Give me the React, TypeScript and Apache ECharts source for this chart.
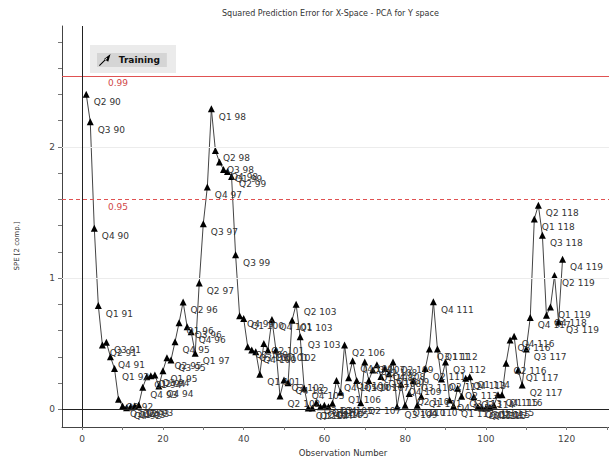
import React, { useEffect, useRef } from "react";
import * as echarts from "echarts";

// SPE per observation (observation numbers 1..119)
const observations: number[] = [
  1, 2, 3, 4, 5, 6, 7, 8, 9, 10, 11, 12, 13, 14, 15, 16, 17, 18, 19, 20,
  21, 22, 23, 24, 25, 26, 27, 28, 29, 30, 31, 32, 33, 34, 35, 36, 37, 38, 39, 40,
  41, 42, 43, 44, 45, 46, 47, 48, 49, 50, 51, 52, 53, 54, 55, 56, 57, 58, 59, 60,
  61, 62, 63, 64, 65, 66, 67, 68, 69, 70, 71, 72, 73, 74, 75, 76, 77, 78, 79, 80,
  81, 82, 83, 84, 85, 86, 87, 88, 89, 90, 91, 92, 93, 94, 95, 96, 97, 98, 99, 100,
  101, 102, 103, 104, 105, 106, 107, 108, 109, 110, 111, 112, 113, 114, 115, 116, 117, 118, 119,
];

const speValues: number[] = [
  2.40, 2.19, 1.38, 0.79, 0.49, 0.51, 0.40, 0.31, 0.076, 0.025,
  0.012, 0.02, 0.025, 0.033, 0.167, 0.248, 0.256, 0.261, 0.177, 0.294,
  0.393, 0.375, 0.514, 0.659, 0.818, 0.628, 0.59, 0.426, 0.963, 1.414,
  1.693, 2.289, 1.972, 1.883, 1.827, 1.812, 1.774, 1.178, 0.712, 0.692,
  0.476, 0.451, 0.438, 0.266, 0.502, 0.451, 0.684, 0.451, 0.101, 0.223,
  0.202, 0.679, 0.80, 0.552, 0.16, 0.01, 0.01, 0.05, 0.02, 0.03,
  0.02, 0.045, 0.22, 0.13, 0.49, 0.24, 0.37, 0.22, 0.05, 0.36,
  0.22, 0.30, 0.34, 0.25, 0.31, 0.27, 0.36, 0.02, 0.19, 0.03,
  0.12, 0.22, 0.03, 0.10, 0.31, 0.46, 0.82, 0.46, 0.23, 0.36,
  0.07, 0.025, 0.16, 0.10, 0.236, 0.248, 0.096, 0.02, 0.01, 0.01,
  0.015, 0.03, 0.11, 0.11, 0.35, 0.527, 0.557, 0.30, 0.185, 0.46,
  0.70, 1.45, 1.555, 1.325, 0.717, 0.78, 1.02, 0.666, 1.143,
];

const quarterLabels: string[] = [
  "Q2 90", "Q3 90", "Q4 90",
  "Q1 91", "Q2 91", "Q3 91", "Q4 91",
  "Q1 92", "Q2 92", "Q3 92", "Q4 92",
  "Q1 93", "Q2 93", "Q3 93", "Q4 93",
  "Q1 94", "Q2 94", "Q3 94", "Q4 94",
  "Q1 95", "Q2 95", "Q3 95", "Q4 95",
  "Q1 96", "Q2 96", "Q3 96", "Q4 96",
  "Q1 97", "Q2 97", "Q3 97", "Q4 97",
  "Q1 98", "Q2 98", "Q3 98", "Q4 98",
  "Q1 99", "Q2 99", "Q3 99", "Q4 99",
  "Q1 100", "Q2 100", "Q3 100", "Q4 100",
  "Q1 101", "Q2 101", "Q3 101", "Q4 101",
  "Q1 102", "Q2 102", "Q3 102", "Q4 102",
  "Q1 103", "Q2 103", "Q3 103", "Q4 103",
  "Q1 104", "Q2 104", "Q3 104", "Q4 104",
  "Q1 105", "Q2 105", "Q3 105", "Q4 105",
  "Q1 106", "Q2 106", "Q3 106", "Q4 106",
  "Q1 107", "Q2 107", "Q3 107", "Q4 107",
  "Q1 108", "Q2 108", "Q3 108", "Q4 108",
  "Q1 109", "Q2 109", "Q3 109", "Q4 109",
  "Q1 110", "Q2 110", "Q3 110", "Q4 110",
  "Q1 111", "Q2 111", "Q3 111", "Q4 111",
  "Q1 112", "Q2 112", "Q3 112", "Q4 112",
  "Q1 113", "Q2 113", "Q3 113", "Q4 113",
  "Q1 114", "Q2 114", "Q3 114", "Q4 114",
  "Q1 115", "Q2 115", "Q3 115", "Q4 115",
  "Q1 116", "Q2 116", "Q3 116", "Q4 116",
  "Q1 117", "Q2 117", "Q3 117", "Q4 117",
  "Q1 118", "Q2 118", "Q3 118", "Q4 118",
  "Q1 119", "Q2 119", "Q3 119", "Q4 119",
];

// Confidence limits
const limit99 = 2.54;
const limit95 = 1.6;

const xLabelValues: number[] = [0, 20, 40, 60, 80, 100, 120];
const xTickValues: number[] = [0, 10, 20, 30, 40, 50, 60, 70, 80, 90, 100, 110, 120, 130];
const yLabelValues: number[] = [0, 1, 2];
const yTickValues: number[] = [0, 0.2, 0.4, 0.6, 0.8, 1, 1.2, 1.4, 1.6, 1.8, 2, 2.2, 2.4, 2.6, 2.8];

const FONT = "DejaVu Sans";
const LIMIT_RED = "#e05252";

export default function App() {
  const ref = useRef<HTMLDivElement>(null);

  useEffect(() => {
    if (!ref.current) return;
    const chart = echarts.init(ref.current, null, { renderer: "svg" });

    const points = observations.map((x, i) => [x, speValues[i]]);

    const hiddenLabel = { show: false };

    const option = {
      animation: false,
      backgroundColor: "#ffffff",
      textStyle: { fontFamily: FONT },
      title: {
        text: "Squared Prediction Error for X-Space - PCA for Y space",
        left: 222,
        top: 9,
        padding: 0,
        textStyle: { fontSize: 8, fontWeight: "normal", color: "#333", fontFamily: FONT },
      },
      legend: {
        data: ["Training"],
        left: 97,
        top: 53,
        padding: [1, 7, 1, 2],
        backgroundColor: "#d5d5d5",
        itemWidth: 12,
        itemHeight: 12,
        selectedMode: false,
        icon: "path://M0,13.2 L0.8,14 L9,5.8 L8.2,5 Z M5.5,6.5 L12.5,1 L10,9.5 Z",
        textStyle: {
          fontSize: 9,
          fontWeight: "bold",
          color: "#111",
          fontFamily: FONT,
          padding: [0, 0, 0, 3],
        },
      },
      graphic: [
        {
          type: "rect",
          shape: { x: 90, y: 45, width: 86, height: 28 },
          style: { fill: "#ebebeb" },
          z: 0,
          silent: true,
        },
        {
          type: "text",
          x: 17,
          y: 246,
          rotation: Math.PI / 2,
          silent: true,
          style: {
            text: "SPE [2 comp.]",
            fontSize: 7,
            fontFamily: FONT,
            fill: "#333",
            align: "center",
            verticalAlign: "middle",
          },
        },
        {
          type: "text",
          x: 343,
          y: 453,
          silent: true,
          style: {
            text: "Observation Number",
            fontSize: 8.5,
            fontFamily: FONT,
            fill: "#333",
            align: "center",
            verticalAlign: "middle",
          },
        },
      ],
      grid: {
        left: 62,
        right: 0,
        top: 26,
        bottom: 34,
        containLabel: false,
        outerBoundsMode: "none",
      },
      xAxis: {
        type: "value",
        min: -5,
        max: 130.5,
        axisLine: { show: true, onZero: false, lineStyle: { color: "#444", width: 1 } },
        axisTick: { show: true, customValues: xTickValues, length: 3, lineStyle: { color: "#777" } },
        axisLabel: { customValues: xLabelValues, fontSize: 9, color: "#444", margin: 7, fontFamily: FONT },
        splitLine: { show: false },
      },
      yAxis: {
        type: "value",
        min: -0.135,
        max: 2.92,
        axisLine: { show: true, onZero: false, lineStyle: { color: "#444", width: 1 } },
        axisTick: { show: true, customValues: yTickValues, length: 4, lineStyle: { color: "#777" } },
        axisLabel: { customValues: yLabelValues, fontSize: 9, color: "#444", margin: 7, fontFamily: FONT },
        splitLine: { show: false },
      },
      series: [
        {
          name: "Training",
          type: "line",
          data: points,
          symbol: "triangle",
          symbolSize: 7,
          itemStyle: { color: "#000" },
          lineStyle: { color: "#444", width: 1 },
          label: {
            show: true,
            position: "right",
            distance: 4,
            offset: [0, 8],
            fontSize: 9,
            color: "#333",
            fontFamily: FONT,
            formatter: (p: any) => quarterLabels[p.dataIndex],
          },
          markLine: {
            silent: true,
            symbol: "none",
            animation: false,
            data: [
              {
                yAxis: 1,
                lineStyle: { color: "#ececec", type: "solid", width: 1 },
                label: hiddenLabel,
              },
              {
                yAxis: 2,
                lineStyle: { color: "#ececec", type: "solid", width: 1 },
                label: hiddenLabel,
              },
              {
                yAxis: limit99,
                lineStyle: { color: LIMIT_RED, type: "solid", width: 1 },
                label: {
                  show: true,
                  formatter: "0.99",
                  position: "insideStartBottom",
                  distance: [46, 3],
                  color: "#d04848",
                  fontSize: 9,
                  fontFamily: FONT,
                },
              },
              {
                yAxis: limit95,
                lineStyle: { color: LIMIT_RED, type: [4, 3], width: 1 },
                label: {
                  show: true,
                  formatter: "0.95",
                  position: "insideStartBottom",
                  distance: [46, 3],
                  color: "#d04848",
                  fontSize: 9,
                  fontFamily: FONT,
                },
              },
              {
                yAxis: 0,
                lineStyle: { color: "#222", type: "solid", width: 1 },
                label: hiddenLabel,
              },
              {
                xAxis: 0,
                lineStyle: { color: "#222", type: "solid", width: 1 },
                label: hiddenLabel,
              },
            ],
          },
        },
      ],
    };

    chart.setOption(option as any);
    return () => chart.dispose();
  }, []);

  return (
    <div
      ref={ref}
      style={{ position: "fixed", left: 0, top: 0, width: 609, height: 461 }}
    />
  );
}
